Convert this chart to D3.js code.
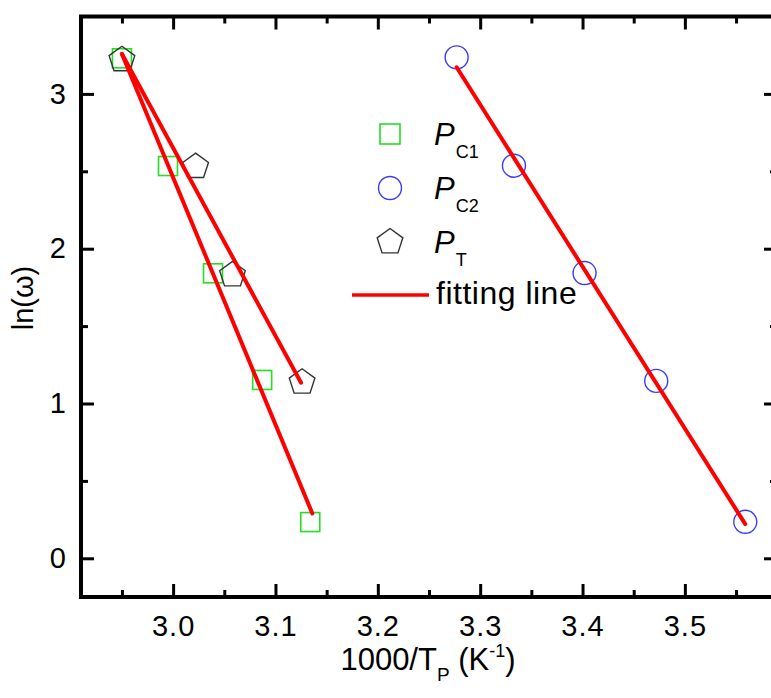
<!DOCTYPE html>
<html>
<head>
<meta charset="utf-8">
<script src="https://cdn.jsdelivr.net/npm/d3@7/dist/d3.min.js"></script>
<style>
  html, body { margin: 0; padding: 0; background: #fff; }
  svg { display: block; }
  text { font-family: "Liberation Sans", Arial, sans-serif; fill: #000; }
</style>
</head>
<body>
<svg id="chart" width="771" height="698"></svg>
<script>
// ---- data ----
const pc1X = [2.950, 2.995, 3.039, 3.087, 3.134];
const pc1Y = [3.230, 2.534, 1.841, 1.152, 0.234];
const pc2X = [3.277, 3.333, 3.402, 3.472, 3.559];
const pc2Y = [3.236, 2.536, 1.843, 1.146, 0.236];
const ptX  = [2.950, 3.022, 3.058, 3.126];
const ptY  = [3.230, 2.540, 1.840, 1.147];
// fitted line end points
const fitC1X = [2.950, 3.136];
const fitC1Y = [3.258, 0.290];
const fitTX  = [2.950, 3.125];
const fitTY  = [3.258, 1.134];
const fitC2X = [3.277, 3.559];
const fitC2Y = [3.172, 0.221];
// ticks
const xMajor = [3.0, 3.1, 3.2, 3.3, 3.4, 3.5];
const xMinor = [2.95, 3.05, 3.15, 3.25, 3.35, 3.45, 3.55];
const yMajor = [0, 1, 2, 3];
const yMinor = [-0.5, 0.5, 1.5, 2.5, 3.5];
const xTickLabels = ["3.0", "3.1", "3.2", "3.3", "3.4", "3.5"];
const yTickLabels = ["0", "1", "2", "3"];

// ---- layout ----
const svg = d3.select("#chart");
const L = 81, R = 777, T = 16.5, B = 597;
const x = d3.scaleLinear().domain([2.91, 3.59]).range([L, R]);
const y = d3.scaleLinear().domain([-0.25, 3.5]).range([B, T]);

const majorLen = 13, minorLen = 7;

function styleAxis(g) {
  g.select(".domain").remove();
  g.selectAll(".tick line").attr("stroke", "#000").attr("stroke-width", 3);
  g.selectAll(".tick text").style("font-size", "29px").style("letter-spacing", "1px").attr("fill", "#000");
}

// bottom
svg.append("g").attr("transform", `translate(0,${B})`)
  .call(d3.axisBottom(x).tickValues(xMajor).tickSizeInner(-majorLen).tickSizeOuter(0)
        .tickPadding(18).tickFormat((d, i) => xTickLabels[i]))
  .call(styleAxis);
svg.append("g").attr("transform", `translate(0,${B})`)
  .call(d3.axisBottom(x).tickValues(xMinor.filter(v => v > 2.91 && v < 3.59)).tickSizeInner(-minorLen).tickSizeOuter(0).tickFormat(""))
  .call(styleAxis);
// top
svg.append("g").attr("transform", `translate(0,${T})`)
  .call(d3.axisTop(x).tickValues(xMajor).tickSizeInner(-majorLen).tickSizeOuter(0).tickFormat(""))
  .call(styleAxis);
svg.append("g").attr("transform", `translate(0,${T})`)
  .call(d3.axisTop(x).tickValues(xMinor.filter(v => v > 2.91 && v < 3.59)).tickSizeInner(-minorLen).tickSizeOuter(0).tickFormat(""))
  .call(styleAxis);
// left
svg.append("g").attr("transform", `translate(${L},0)`)
  .call(d3.axisLeft(y).tickValues(yMajor).tickSizeInner(-majorLen).tickSizeOuter(0)
        .tickPadding(14).tickFormat((d, i) => yTickLabels[i]))
  .call(styleAxis);
svg.append("g").attr("transform", `translate(${L},0)`)
  .call(d3.axisLeft(y).tickValues(yMinor.filter(v => v > -0.25 && v < 3.5)).tickSizeInner(-minorLen).tickSizeOuter(0).tickFormat(""))
  .call(styleAxis);
// right
svg.append("g").attr("transform", `translate(${R},0)`)
  .call(d3.axisRight(y).tickValues(yMajor).tickSizeInner(-majorLen).tickSizeOuter(0).tickFormat(""))
  .call(styleAxis);
svg.append("g").attr("transform", `translate(${R},0)`)
  .call(d3.axisRight(y).tickValues(yMinor.filter(v => v > -0.25 && v < 3.5)).tickSizeInner(-minorLen).tickSizeOuter(0).tickFormat(""))
  .call(styleAxis);

// frame
svg.append("rect").attr("x", L).attr("y", T).attr("width", R - L).attr("height", B - T)
  .attr("fill", "none").attr("stroke", "#000").attr("stroke-width", 4);

// ---- markers ----
const cGreen = "#22e022", cBlue = "#3a3aff", cGray = "#333";
function pentagonPath(r) {
  const pts = d3.range(5).map(i => {
    const a = -Math.PI / 2 + i * 2 * Math.PI / 5;
    return [r * Math.cos(a), r * Math.sin(a)];
  });
  return "M" + pts.map(p => p.join(",")).join("L") + "Z";
}
const sq = 19, cr = 11.5, pr = 13.5;

const plot = svg.append("g");
plot.selectAll("rect.c1").data(pc1X.map((v, i) => [v, pc1Y[i]])).enter().append("rect")
  .attr("x", d => x(d[0]) - sq / 2).attr("y", d => y(d[1]) - sq / 2)
  .attr("width", sq).attr("height", sq)
  .attr("fill", "none").attr("stroke", cGreen).attr("stroke-width", 1.6);
plot.selectAll("circle.c2").data(pc2X.map((v, i) => [v, pc2Y[i]])).enter().append("circle")
  .attr("cx", d => x(d[0])).attr("cy", d => y(d[1])).attr("r", cr)
  .attr("fill", "none").attr("stroke", cBlue).attr("stroke-width", 1.4);
plot.selectAll("path.pt").data(ptX.map((v, i) => [v, ptY[i]])).enter().append("path")
  .attr("transform", d => `translate(${x(d[0])},${y(d[1]) + 1.5})`)
  .attr("d", pentagonPath(pr))
  .attr("fill", "none").attr("stroke", cGray).attr("stroke-width", 1.4);

const line = d3.line().x(d => x(d[0])).y(d => y(d[1]));
[[fitC1X, fitC1Y], [fitTX, fitTY], [fitC2X, fitC2Y]].forEach(([xs, ys]) => {
  plot.append("path").attr("d", line(xs.map((v, i) => [v, ys[i]])))
    .attr("fill", "none").attr("stroke", "#ff0000").attr("stroke-width", 4)
    .attr("stroke-linecap", "round");
});

// ---- legend ----
const lg = svg.append("g");
const lx = 390;
lg.append("rect").attr("x", lx - 10).attr("y", 134 - 10).attr("width", 20).attr("height", 20)
  .attr("fill", "none").attr("stroke", cGreen).attr("stroke-width", 1.6);
lg.append("circle").attr("cx", lx).attr("cy", 188).attr("r", cr)
  .attr("fill", "none").attr("stroke", cBlue).attr("stroke-width", 1.4);
lg.append("path").attr("transform", `translate(${lx},${242})`).attr("d", pentagonPath(pr))
  .attr("fill", "none").attr("stroke", cGray).attr("stroke-width", 1.4);
lg.append("line").attr("x1", 352).attr("x2", 429).attr("y1", 295).attr("y2", 295)
  .attr("stroke", "#ff0000").attr("stroke-width", 3.5);

const legendNames = [["P", "C1", 145], ["P", "C2", 199], ["P", "T", 253]];
legendNames.forEach(([main, sub, by]) => {
  const t = lg.append("text").attr("x", 434).attr("y", by).style("font-size", "31px");
  t.append("tspan").text(main).style("font-style", "italic");
  t.append("tspan").text(sub).attr("dy", 13).attr("dx", 1).style("font-size", "18px");
});
lg.append("text").attr("x", 436).attr("y", 304).style("font-size", "32px")
  .style("letter-spacing", "0.5px").text("fitting line");

// ---- axis titles ----
const xt = svg.append("text").attr("x", 428).attr("y", 670).attr("text-anchor", "middle")
  .style("font-size", "31px");
xt.append("tspan").text("1000/T");
xt.append("tspan").text("P").attr("dy", 11).style("font-size", "19px");
xt.append("tspan").text(" (K").attr("dy", -11);
xt.append("tspan").text("-1").attr("dy", -13).style("font-size", "18px");
xt.append("tspan").text(")").attr("dy", 13);

svg.append("text").attr("transform", "translate(33,298) rotate(-90)")
  .attr("text-anchor", "middle").style("font-size", "29px").text("ln(ω)");
</script>
</body>
</html>
